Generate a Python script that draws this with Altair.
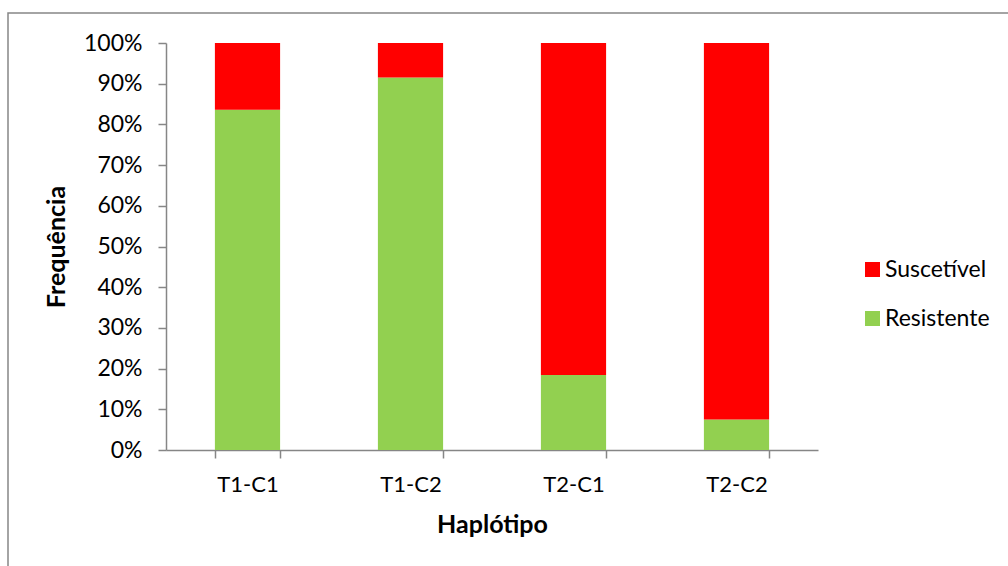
import altair as alt
import pandas as pd

# Share of resistant / susceptible plants per haplotype (percent)
haplotypes = ["T1-C1", "T1-C2", "T2-C1", "T2-C2"]
resistente = [83.6, 91.5, 18.4, 7.5]
suscetivel = [16.4, 8.5, 81.6, 92.5]

classes = ["Suscetível", "Resistente"]
class_colors = ["#FF0000", "#92D050"]
y_ticks = [0, 0.1, 0.2, 0.3, 0.4, 0.5, 0.6, 0.7, 0.8, 0.9, 1.0]

rows = []
for h, r, s in zip(haplotypes, resistente, suscetivel):
    rows.append({"Haplótipo": h, "Classe": "Resistente", "valor": r, "ordem": 0})
    rows.append({"Haplótipo": h, "Classe": "Suscetível", "valor": s, "ordem": 1})
df = pd.DataFrame(rows)

FONT = "Lato"
AXIS_GRAY = "#868686"
W, H = 652, 407

bars = alt.Chart(df).mark_bar().encode(
    x=alt.X(
        "Haplótipo:N",
        sort=haplotypes,
        scale=alt.Scale(paddingInner=0.6, paddingOuter=0.3),
        axis=alt.Axis(
            title="Haplótipo",
            tickBand="extent",
            labelAngle=0,
            labelPadding=16,
            labelFontSize=22,
            titlePadding=17,
        ),
    ),
    y=alt.Y(
        "valor:Q",
        stack="normalize",
        scale=alt.Scale(domain=[0, 1]),
        axis=alt.Axis(
            title="Frequência",
            format=".0%",
            values=y_ticks,
            grid=False,
            labelPadding=16,
            titlePadding=14,
        ),
    ),
    color=alt.Color(
        "Classe:N",
        scale=alt.Scale(domain=classes, range=class_colors),
        legend=alt.Legend(
            title=None,
            orient="none",
            legendX=695,
            legendY=215,
            symbolType="square",
            symbolSize=225,
            symbolStrokeWidth=0,
            labelFontSize=23,
            labelFont=FONT,
            labelColor="#000000",
            rowPadding=25,
            labelOffset=1,
            padding=0,
        ),
    ),
    order=alt.Order("ordem:Q"),
)

# Outer frame around the chart area
frame = alt.Chart(pd.DataFrame({"k": [0]})).mark_rect(
    fill=None, stroke=AXIS_GRAY, strokeWidth=1.5
).encode(
    x=alt.value(-158),
    y=alt.value(-30),
    x2=alt.value(W + 200),
    y2=alt.value(H + 200),
)

chart = (
    alt.layer(frame, bars)
    .properties(
        width=W,
        height=H,
        padding={"left": 166, "top": 43, "right": 190, "bottom": 116},
        autosize=alt.AutoSizeParams(type="none"),
        background="white",
    )
    .configure_view(stroke=None)
    .configure_axis(
        domainColor=AXIS_GRAY,
        domainWidth=1.5,
        tickColor=AXIS_GRAY,
        tickWidth=1.5,
        tickSize=8,
        labelFont=FONT,
        labelFontSize=23,
        labelColor="#000000",
        titleFont=FONT,
        titleFontSize=25,
        titleFontWeight="bold",
        titleColor="#000000",
    )
)

chart.save("out.html", embed_options={"renderer": "svg", "actions": False})
